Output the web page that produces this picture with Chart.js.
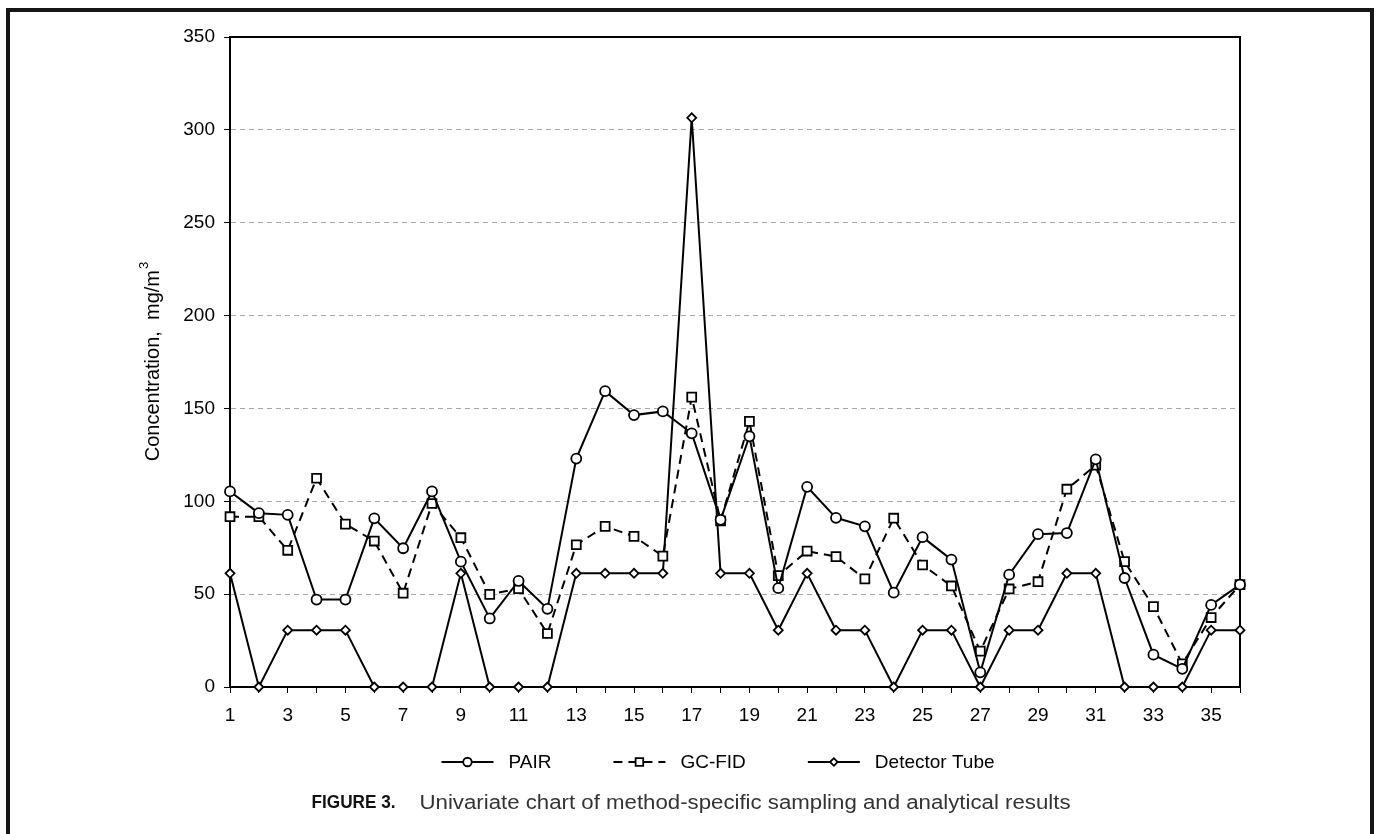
<!DOCTYPE html>
<html>
<head>
<meta charset="utf-8">
<style>
  html, body { margin: 0; padding: 0; background: #fff; overflow: hidden; }
  #frame { position: absolute; left: 6px; top: 8px; width: 1368px; height: 900px;
           border: 4px solid #161616; box-sizing: border-box; }
  #wrap { position: absolute; left: 0; top: 0; width: 1377px; height: 834px; }
</style>
<script src="https://cdn.jsdelivr.net/npm/chart.js@4.4.0/dist/chart.umd.min.js"></script>
</head>
<body>
<div id="frame"></div>
<div id="wrap"><canvas id="chart"></canvas></div>
<script>
// sample numbers
const samples = ['1','2','3','4','5','6','7','8','9','10','11','12','13','14','15','16','17','18',
                 '19','20','21','22','23','24','25','26','27','28','29','30','31','32','33','34','35','36'];

// concentrations, mg/m3
const pairValues = [105.3, 93.6, 92.7, 47.1, 47.1, 90.8, 74.7, 105.3, 67.5, 36.9, 57.1, 42.1,
                    123.0, 159.3, 146.4, 148.4, 136.6, 90.0, 135.0, 53.2, 107.8, 91.1, 86.5, 50.8,
                    80.7, 68.6, 7.9, 60.5, 82.3, 82.9, 122.6, 58.7, 17.4, 9.8, 44.2, 55.1];
const gcfidValues = [91.7, 91.7, 73.6, 112.4, 87.7, 78.6, 50.5, 98.8, 80.4, 49.9, 52.9, 28.8,
                     76.6, 86.5, 81.1, 70.5, 156.1, 89.5, 143.0, 60.0, 73.2, 70.2, 58.2, 90.9,
                     65.7, 54.4, 19.3, 52.8, 56.7, 106.5, 119.4, 67.5, 43.3, 12.5, 37.4, 55.1];
const tubeValues = [61.2, 0, 30.6, 30.6, 30.6, 0, 0, 0, 61.2, 0, 0, 0,
                    61.2, 61.2, 61.2, 61.2, 306.5, 61.2, 61.2, 30.6, 61.2, 30.6, 30.6, 0,
                    30.6, 30.6, 0, 30.6, 30.6, 61.2, 61.2, 0, 0, 0, 30.6, 30.6];

const yTicks = [0, 50, 100, 150, 200, 250, 300, 350];
const seriesNames = ['PAIR', 'GC-FID', 'Detector Tube'];
const yTitle = 'Concentration,  mg/m';
const yTitleSup = '3';
const captionBold = 'FIGURE 3.';
const captionText = 'Univariate chart of method-specific sampling and analytical results';

const FONT = '"Liberation Sans", Arial, sans-serif';

// plot box (top + right sides)
const boxPlugin = {
  id: 'box',
  beforeDatasetsDraw(chart) {
    const { left, right, top, bottom } = chart.chartArea;
    const ctx = chart.ctx;
    ctx.save();
    ctx.strokeStyle = '#000';
    ctx.lineWidth = 2;
    ctx.beginPath();
    ctx.moveTo(left, top); ctx.lineTo(right, top); ctx.lineTo(right, bottom);
    ctx.stroke();
    ctx.restore();
  }
};

// y title with superscript, legend with line + marker, caption
const extrasPlugin = {
  id: 'extras',
  afterDraw(chart) {
    const ctx = chart.ctx;
    const { top, bottom } = chart.chartArea;
    ctx.save();
    ctx.fillStyle = '#000';

    // y axis title
    ctx.font = '20px ' + FONT;
    const wMain = ctx.measureText(yTitle).width;
    ctx.font = '13px ' + FONT;
    const wSup = ctx.measureText(yTitleSup).width;
    ctx.translate(153, (top + bottom) / 2);
    ctx.rotate(-Math.PI / 2);
    ctx.textBaseline = 'middle';
    ctx.textAlign = 'left';
    ctx.font = '20px ' + FONT;
    ctx.fillText(yTitle, -(wMain + wSup) / 2, 0);
    ctx.font = '13px ' + FONT;
    ctx.fillText(yTitleSup, -(wMain + wSup) / 2 + wMain + 1, -9);
    ctx.setTransform(chart.currentDevicePixelRatio, 0, 0, chart.currentDevicePixelRatio, 0, 0);

    // legend
    const legY = 762, lineLen = 52, gapText = 15, gapItem = 62;
    ctx.font = '19px ' + FONT;
    const widths = chart.data.datasets.map(d => lineLen + gapText + ctx.measureText(d.label).width);
    const total = widths.reduce((a, b) => a + b, 0) + gapItem * (widths.length - 1);
    let x = 718 - total / 2;
    chart.data.datasets.forEach((d, i) => {
      ctx.save();
      ctx.strokeStyle = '#000';
      ctx.lineWidth = 2;
      ctx.setLineDash(d.borderDash || []);
      ctx.beginPath();
      ctx.moveTo(x, legY); ctx.lineTo(x + lineLen, legY);
      ctx.stroke();
      ctx.setLineDash([]);
      ctx.fillStyle = '#fff';
      ctx.lineWidth = d.pointBorderWidth;
      Chart.helpers.drawPoint(ctx, {
        pointStyle: d.pointStyle, radius: d.pointRadius * 0.85,
        borderWidth: d.pointBorderWidth, rotation: 0
      }, x + lineLen / 2, legY);
      ctx.restore();
      ctx.fillStyle = '#000';
      ctx.textBaseline = 'middle';
      ctx.textAlign = 'left';
      ctx.fillText(d.label, x + lineLen + gapText, legY + 1);
      x += widths[i] + gapItem;
    });

    // caption (narrow face imitated with a horizontal squeeze)
    const capY = 803;
    ctx.textBaseline = 'middle';
    ctx.font = 'bold 18px ' + FONT;
    const wb = ctx.measureText(captionBold).width;
    ctx.font = '20px ' + FONT;
    const wn = ctx.measureText(captionText).width;
    const boldW = 84, textW = 651, gap = 24;
    const startX = 691 - (boldW + gap + textW) / 2;
    ctx.save();
    ctx.translate(startX, capY);
    ctx.scale(boldW / wb, 1);
    ctx.fillStyle = '#111';
    ctx.font = 'bold 18px ' + FONT;
    ctx.fillText(captionBold, 0, 0);
    ctx.restore();
    ctx.save();
    ctx.translate(startX + boldW + gap, capY);
    ctx.scale(textW / wn, 1);
    ctx.fillStyle = '#333';
    ctx.font = '20px ' + FONT;
    ctx.fillText(captionText, 0, 0);
    ctx.restore();

    ctx.restore();
  }
};

new Chart(document.getElementById('chart'), {
  type: 'line',
  data: {
    labels: samples,
    datasets: [{
      label: seriesNames[0],
      data: pairValues,
      borderColor: '#000',
      borderWidth: 2,
      pointStyle: 'circle',
      pointRadius: 5,
      pointBorderWidth: 1.8,
      pointBackgroundColor: '#fff',
      pointBorderColor: '#000',
      tension: 0,
      clip: false
    }, {
      label: seriesNames[1],
      data: gcfidValues,
      borderColor: '#000',
      borderWidth: 2,
      borderDash: [9, 6],
      pointStyle: 'rect',
      pointRadius: 6.3,
      pointBorderWidth: 1.8,
      pointBackgroundColor: '#fff',
      pointBorderColor: '#000',
      tension: 0,
      clip: false
    }, {
      label: seriesNames[2],
      data: tubeValues,
      borderColor: '#000',
      borderWidth: 2,
      pointStyle: 'rectRot',
      pointRadius: 4.5,
      pointBorderWidth: 1.8,
      pointBackgroundColor: '#fff',
      pointBorderColor: '#000',
      tension: 0,
      clip: false
    }]
  },
  plugins: [boxPlugin, extrasPlugin],
  options: {
    responsive: true,
    maintainAspectRatio: false,
    animation: false,
    layout: { padding: { left: 150, right: 137, top: 37, bottom: 107 } },
    plugins: { legend: { display: false }, tooltip: { enabled: false } },
    scales: {
      x: {
        type: 'category',
        offset: false,
        afterFit(s) { s.height = 40; },
        grid: { drawOnChartArea: false, drawTicks: true, tickLength: 6, color: '#000', lineWidth: 1 },
        border: { display: true, color: '#000', width: 2 },
        ticks: {
          autoSkip: false, maxRotation: 0, padding: 11, color: '#000',
          font: { family: FONT, size: 19 },
          callback: (v, i) => (i % 2 === 0 ? samples[i] : '')
        }
      },
      y: {
        min: yTicks[0],
        max: yTicks[yTicks.length - 1],
        afterFit(s) { s.width = 80; },
        afterBuildTicks(s) { s.ticks = yTicks.map(v => ({ value: v })); },
        grid: {
          drawTicks: true, tickLength: 6, lineWidth: 1,
          color: c => (c.tick && (c.tick.value === 0 || c.tick.value === 350)) ? 'rgba(0,0,0,0)' : '#a8a8a8',
          tickColor: '#000', tickBorderDash: []
        },
        border: { display: true, color: '#000', width: 2, dash: [5, 4] },
        ticks: { padding: 9, color: '#000', font: { family: FONT, size: 19 } }
      }
    }
  }
});
</script>
</body>
</html>
